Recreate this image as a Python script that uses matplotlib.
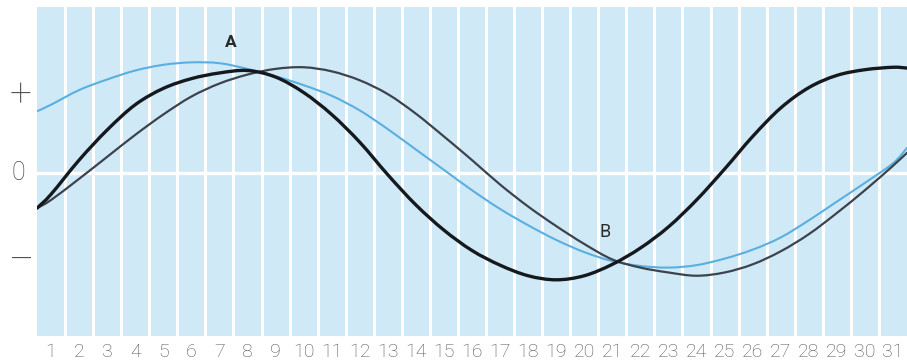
import numpy as np
import matplotlib
matplotlib.use("Agg")
import matplotlib.pyplot as plt
from matplotlib.path import Path
from matplotlib.patches import PathPatch
from matplotlib.transforms import blended_transform_factory

# Days of the month (with half-day margins at both ends)
days = [0.5] + list(range(1, 32)) + [31.5]

# Curve values on a -/0/+ scale (1.0 = "+", -1.0 = "-")
black_curve = [-0.43, -0.26, 0.16, 0.53, 0.84, 1.04, 1.16, 1.23, 1.26, 1.18,
               0.99, 0.72, 0.38, -0.02, -0.39, -0.70, -0.95, -1.13, -1.26,
               -1.31, -1.26, -1.12, -0.92, -0.66, -0.33, 0.05, 0.45, 0.80,
               1.05, 1.20, 1.27, 1.30, 1.29]
grey_curve = [-0.43, -0.33, -0.07, 0.20, 0.47, 0.72, 0.94, 1.10, 1.21, 1.28,
              1.30, 1.25, 1.14, 0.97, 0.73, 0.45, 0.16, -0.14, -0.41, -0.65,
              -0.87, -1.06, -1.16, -1.22, -1.26, -1.22, -1.12, -0.96, -0.75,
              -0.49, -0.21, 0.09, 0.25]
blue_curve = [0.76, 0.84, 1.02, 1.15, 1.26, 1.33, 1.36, 1.35, 1.28, 1.19,
              1.08, 0.95, 0.77, 0.54, 0.29, 0.04, -0.21, -0.44, -0.64, -0.82,
              -0.97, -1.08, -1.14, -1.16, -1.13, -1.05, -0.94, -0.79, -0.58,
              -0.35, -0.12, 0.12, 0.31]

day_labels = [str(d) for d in range(1, 32)]
level_values = [1, 0, -1]
level_labels = ["+", "0", "\u2013"]

PANEL = "#d0e9f6"
BLUE = "#5aafe0"
GREY = "#3c434c"
BLACK = "#15191e"
FONT = ["Roboto", "DejaVu Sans"]


def smooth_path(xs, ys):
    """Catmull-Rom style cubic Bezier path through the given points."""
    pts = np.column_stack([np.asarray(xs, float), np.asarray(ys, float)])
    verts = [pts[0]]
    codes = [Path.MOVETO]
    n = len(pts)
    for i in range(n - 1):
        p0 = pts[i - 1] if i > 0 else pts[i]
        p1 = pts[i]
        p2 = pts[i + 1]
        p3 = pts[i + 2] if i + 2 < n else pts[i + 1]
        c1 = p1 + (p2 - p0) / 6.0
        c2 = p2 - (p3 - p1) / 6.0
        verts += [c1, c2, p2]
        codes += [Path.CURVE4] * 3
    return Path(verts, codes)


fig = plt.figure(figsize=(9.07, 3.63), dpi=100)
ax = fig.add_axes([37 / 907, 27 / 363, 870 / 907, 329 / 363])
ax.set_facecolor(PANEL)
ax.set_xlim(0.5, 31.5)
ax.set_ylim(-2.0, 2.04)

# White column dividers and the zero line
for b in np.arange(1.5, 31.5, 1.0):
    ax.axvline(b, color="white", lw=2.2, zorder=1)
ax.axhline(0, color="white", lw=2.4, zorder=1)

for vals, col, lw, z in [(blue_curve, BLUE, 1.5, 3),
                         (grey_curve, GREY, 1.6, 4),
                         (black_curve, BLACK, 2.4, 5)]:
    ax.add_patch(PathPatch(smooth_path(days, vals), facecolor="none",
                           edgecolor=col, lw=lw, zorder=z,
                           capstyle="round", joinstyle="round"))

ax.text(7.4, 1.60, "A", fontsize=12.5, fontweight="bold", family=FONT,
        color="#2a2a2a", ha="center", va="center", zorder=6)
ax.text(20.75, -0.72, "B", fontsize=13, family=FONT,
        color="#2a2a2a", ha="center", va="center", zorder=6)

for s in ax.spines.values():
    s.set_visible(False)

ax.set_xticks(range(1, 32))
ax.set_xticklabels(day_labels, fontsize=14, color="#555555",
                   family=FONT, fontweight="light")
ax.tick_params(axis="x", length=0, pad=5)
ax.set_yticks([])

# Level markers to the left of the panel
trans = blended_transform_factory(ax.transAxes, ax.transData)
for v, lab, xpos, dy, fs in zip(level_values, level_labels,
                                [-0.0185, -0.0215, -0.0175],
                                [-0.04, 0.0, -0.09], [28, 18, 28]):
    ax.text(xpos, v + dy, lab, transform=trans, fontsize=fs, color="#444444",
            family=FONT, fontweight="light", ha="center", va="center")

fig.savefig("out.png", dpi=100, facecolor="white")
